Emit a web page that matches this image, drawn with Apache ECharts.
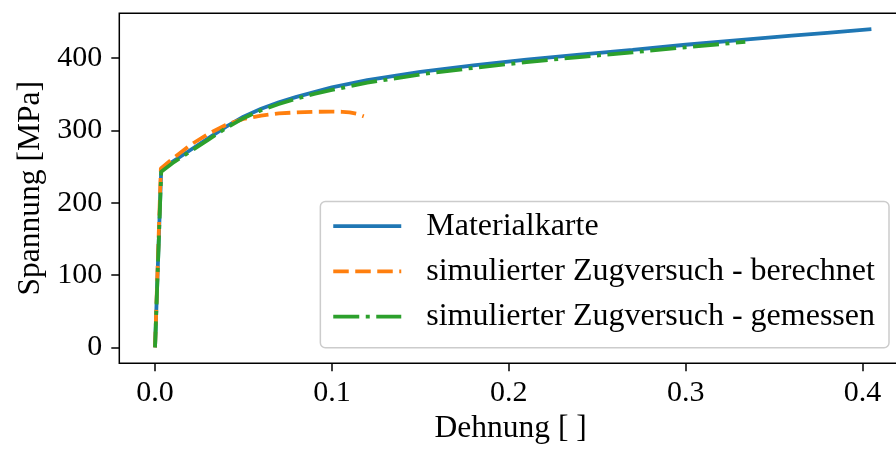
<!DOCTYPE html>
<html>
<head>
<meta charset="utf-8">
<script src="https://cdn.jsdelivr.net/npm/echarts@6/dist/echarts.min.js"></script>
<style>
  html, body { margin: 0; padding: 0; background: #fff; }
  #chart { width: 896px; height: 451px; }
</style>
</head>
<body>
<div id="chart"></div>
<script>
// Stress-strain curves: material card vs. simulated tensile test
const materialStrain = [0, 0.0035, 0.01, 0.02, 0.03, 0.04, 0.05, 0.06, 0.07, 0.08, 0.09, 0.10, 0.12, 0.15, 0.18, 0.21, 0.24, 0.27, 0.30, 0.33, 0.36, 0.38, 0.405];
const materialStress = [0, 246, 257, 273, 289, 305, 319, 330, 339, 346.5, 353, 359.5, 369.5, 381, 390, 398, 405, 411.5, 418.5, 425, 431, 435, 440];

const computedStrain = [0, 0.0033, 0.01, 0.02, 0.03, 0.04, 0.05, 0.06, 0.07, 0.08, 0.09, 0.10, 0.106, 0.11, 0.114, 0.118];
const computedStress = [0, 247.5, 261, 280, 295, 307.5, 316, 320.5, 323.5, 325, 325.8, 326, 325.8, 325, 323, 319.5];

const measuredStrain = [0, 0.0035, 0.01, 0.02, 0.03, 0.04, 0.05, 0.06, 0.07, 0.08, 0.09, 0.10, 0.12, 0.15, 0.18, 0.21, 0.24, 0.27, 0.30, 0.3337];
const measuredStress = [0, 243, 255, 271, 287, 303, 317, 328, 336.5, 344, 350.5, 356, 366, 377.5, 386.5, 394.5, 401.5, 408, 415, 422.5];

const seriesNames = ['Materialkarte', 'simulierter Zugversuch - berechnet', 'simulierter Zugversuch - gemessen'];
const xTicks = [0, 0.1, 0.2, 0.3, 0.4];
const xTickLabels = ['0.0', '0.1', '0.2', '0.3', '0.4'];
const yTicks = [0, 100, 200, 300, 400];
const yTickLabels = ['0', '100', '200', '300', '400'];
const xAxisName = 'Dehnung [ ]';
const yAxisName = 'Spannung [MPa]';

const pairs = (xs, ys) => xs.map((x, i) => [x, ys[i]]);
const FONT = "'Liberation Serif', 'DejaVu Serif', serif";
const LINE_W = 3.8;

const chart = echarts.init(document.getElementById('chart'), null, { renderer: 'canvas' });
chart.setOption({
  animation: false,
  backgroundColor: '#ffffff',
  grid: {
    left: 119.3, top: 13.3, width: 782.7, height: 350,
    show: true, borderColor: '#000', borderWidth: 1.5, backgroundColor: 'transparent',
    containLabel: false, outerBoundsMode: 'none'
  },
  xAxis: {
    type: 'value', min: -0.0202, max: 0.4223,
    name: xAxisName, nameLocation: 'middle', nameGap: 47,
    nameTextStyle: { fontFamily: FONT, fontSize: 31.5, color: '#000' },
    axisLine: { show: false, onZero: false },
    splitLine: { show: false },
    axisTick: { show: true, length: 8, customValues: xTicks, lineStyle: { color: '#000', width: 1.5 } },
    axisLabel: {
      customValues: xTicks, margin: 15,
      fontFamily: FONT, fontSize: 30, color: '#000',
      formatter: v => xTickLabels[xTicks.findIndex(t => Math.abs(t - v) < 1e-9)]
    }
  },
  yAxis: {
    type: 'value', min: -22, max: 462,
    name: yAxisName, nameLocation: 'middle', nameGap: 73,
    nameTextStyle: { fontFamily: FONT, fontSize: 31.5, color: '#000' },
    axisLine: { show: false, onZero: false },
    splitLine: { show: false },
    axisTick: { show: true, length: 8, customValues: yTicks, lineStyle: { color: '#000', width: 1.5 } },
    axisLabel: {
      customValues: yTicks, margin: 17,
      fontFamily: FONT, fontSize: 30, color: '#000',
      formatter: v => yTickLabels[yTicks.findIndex(t => Math.abs(t - v) < 1e-9)]
    }
  },
  legend: {
    orient: 'vertical', right: 7, bottom: 103.3,
    padding: [8.5, 14, 15, 11], itemGap: 13.3,
    itemWidth: 68, itemHeight: 32,
    selectedMode: false,
    itemStyle: { opacity: 0 },
    lineStyle: { width: LINE_W },
    backgroundColor: '#ffffff', borderColor: '#cccccc', borderWidth: 1.5, borderRadius: 5,
    textStyle: { fontFamily: FONT, fontSize: 32, lineHeight: 32, color: '#000', padding: [0, 0, 0, 20], width: 439 },
    data: seriesNames
  },
  series: [
    {
      name: seriesNames[0], type: 'line', data: pairs(materialStrain, materialStress),
      symbol: 'none', color: '#1f77b4', z: 2,
      lineStyle: { width: LINE_W, color: '#1f77b4', cap: 'butt' }
    },
    {
      name: seriesNames[1], type: 'line', data: pairs(computedStrain, computedStress),
      symbol: 'none', color: '#ff7f0e', z: 3,
      lineStyle: { width: LINE_W, color: '#ff7f0e', type: [15.5, 6.5], cap: 'butt' }
    },
    {
      name: seriesNames[2], type: 'line', data: pairs(measuredStrain, measuredStress),
      symbol: 'none', color: '#2ca02c', z: 4,
      lineStyle: { width: LINE_W, color: '#2ca02c', type: [26, 6.5, 4, 6.5], cap: 'butt' }
    }
  ]
});
</script>
</body>
</html>
